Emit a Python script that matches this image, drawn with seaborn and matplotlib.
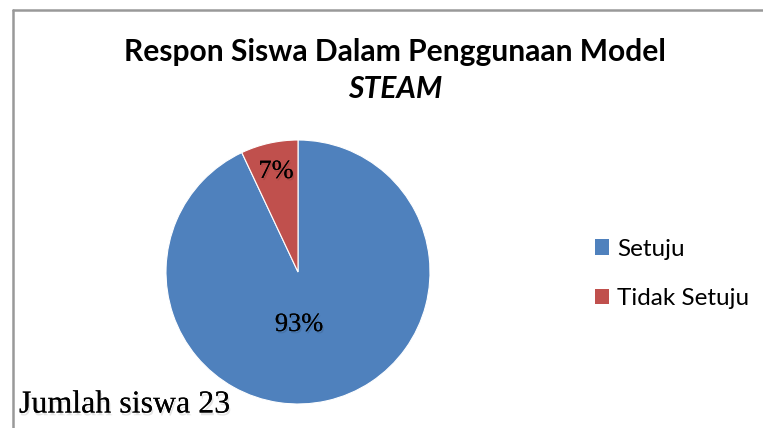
import matplotlib
matplotlib.use("Agg")
import matplotlib.pyplot as plt
import matplotlib.patheffects as pe
from matplotlib.lines import Line2D
from matplotlib.patches import Patch
import seaborn as sns

labels = ["Setuju", "Tidak Setuju"]
values = [93, 7]
colors = ["#4F81BD", "#C0504D"]
title_line1 = "Respon Siswa Dalam Penggunaan Model"
title_line2 = "STEAM"
note = "Jumlah siswa 23"

sns.set_theme(style="white")
plt.rcParams["font.family"] = ["Lato", "DejaVu Sans"]
plt.rcParams["text.color"] = "black"

fig = plt.figure(figsize=(7.63, 4.28), dpi=100)
W, H = 763, 428

# pie axis: center (298, 272), radius ~132 px
cx, cy, r = 298, 272, 132
ax = fig.add_axes([(cx - r) / W, 1 - (cy + r) / H, 2 * r / W, 2 * r / H])
wedges, _ = ax.pie(values, colors=colors, startangle=90, counterclock=False,
                   wedgeprops={"linewidth": 0.8, "edgecolor": "white"})
ax.set_aspect("auto")
ax.set_xlim(-1, 1)
ax.set_ylim(-1, 1)
ax.axis("off")

shadow = [pe.withSimplePatchShadow(offset=(1, -1.5), shadow_rgbFace="black", alpha=0.1), pe.Normal()]
fig.text(299 / W, 1 - 325 / H, "93%", ha="center", va="center", fontsize=19,
         family="Liberation Serif", color="black", path_effects=shadow)
fig.text(276 / W, 1 - 172 / H, "7%", ha="center", va="center", fontsize=19,
         family="Liberation Serif", color="black", path_effects=shadow)

# title
fig.text(395 / W, 1 - 52 / H, title_line1, ha="center", va="center", fontsize=21.6,
         fontweight="bold", color="black")
fig.text(395 / W, 1 - 89 / H, title_line2, ha="center", va="center", fontsize=21.6,
         fontweight="bold", style="italic", color="black")

# legend
handles = [Patch(facecolor=c, edgecolor="none") for c in colors]
leg = fig.legend(handles, labels, loc="center left", bbox_to_anchor=(573 / W, 1 - 274 / H),
                 frameon=False, fontsize=17.5, handlelength=0.6, handleheight=0.6,
                 handletextpad=0.3, labelspacing=1.17)
for t in leg.get_texts():
    t.set_color("black")

# note
fig.text(19 / W, 1 - 405 / H, note, ha="left", va="center", fontsize=23,
         family="Liberation Serif", color="black",
         path_effects=[pe.withSimplePatchShadow(offset=(1, -2), shadow_rgbFace="black", alpha=0.1), pe.Normal()])

# chart frame lines (top and left)
fig.add_artist(Line2D([12.5 / W, 1], [1 - 9.5 / H, 1 - 9.5 / H], color="#999999", lw=1.8))
fig.add_artist(Line2D([12.5 / W, 12.5 / W], [1 - 9.5 / H, 0], color="#999999", lw=1.8))

fig.savefig("out.png", dpi=100)
